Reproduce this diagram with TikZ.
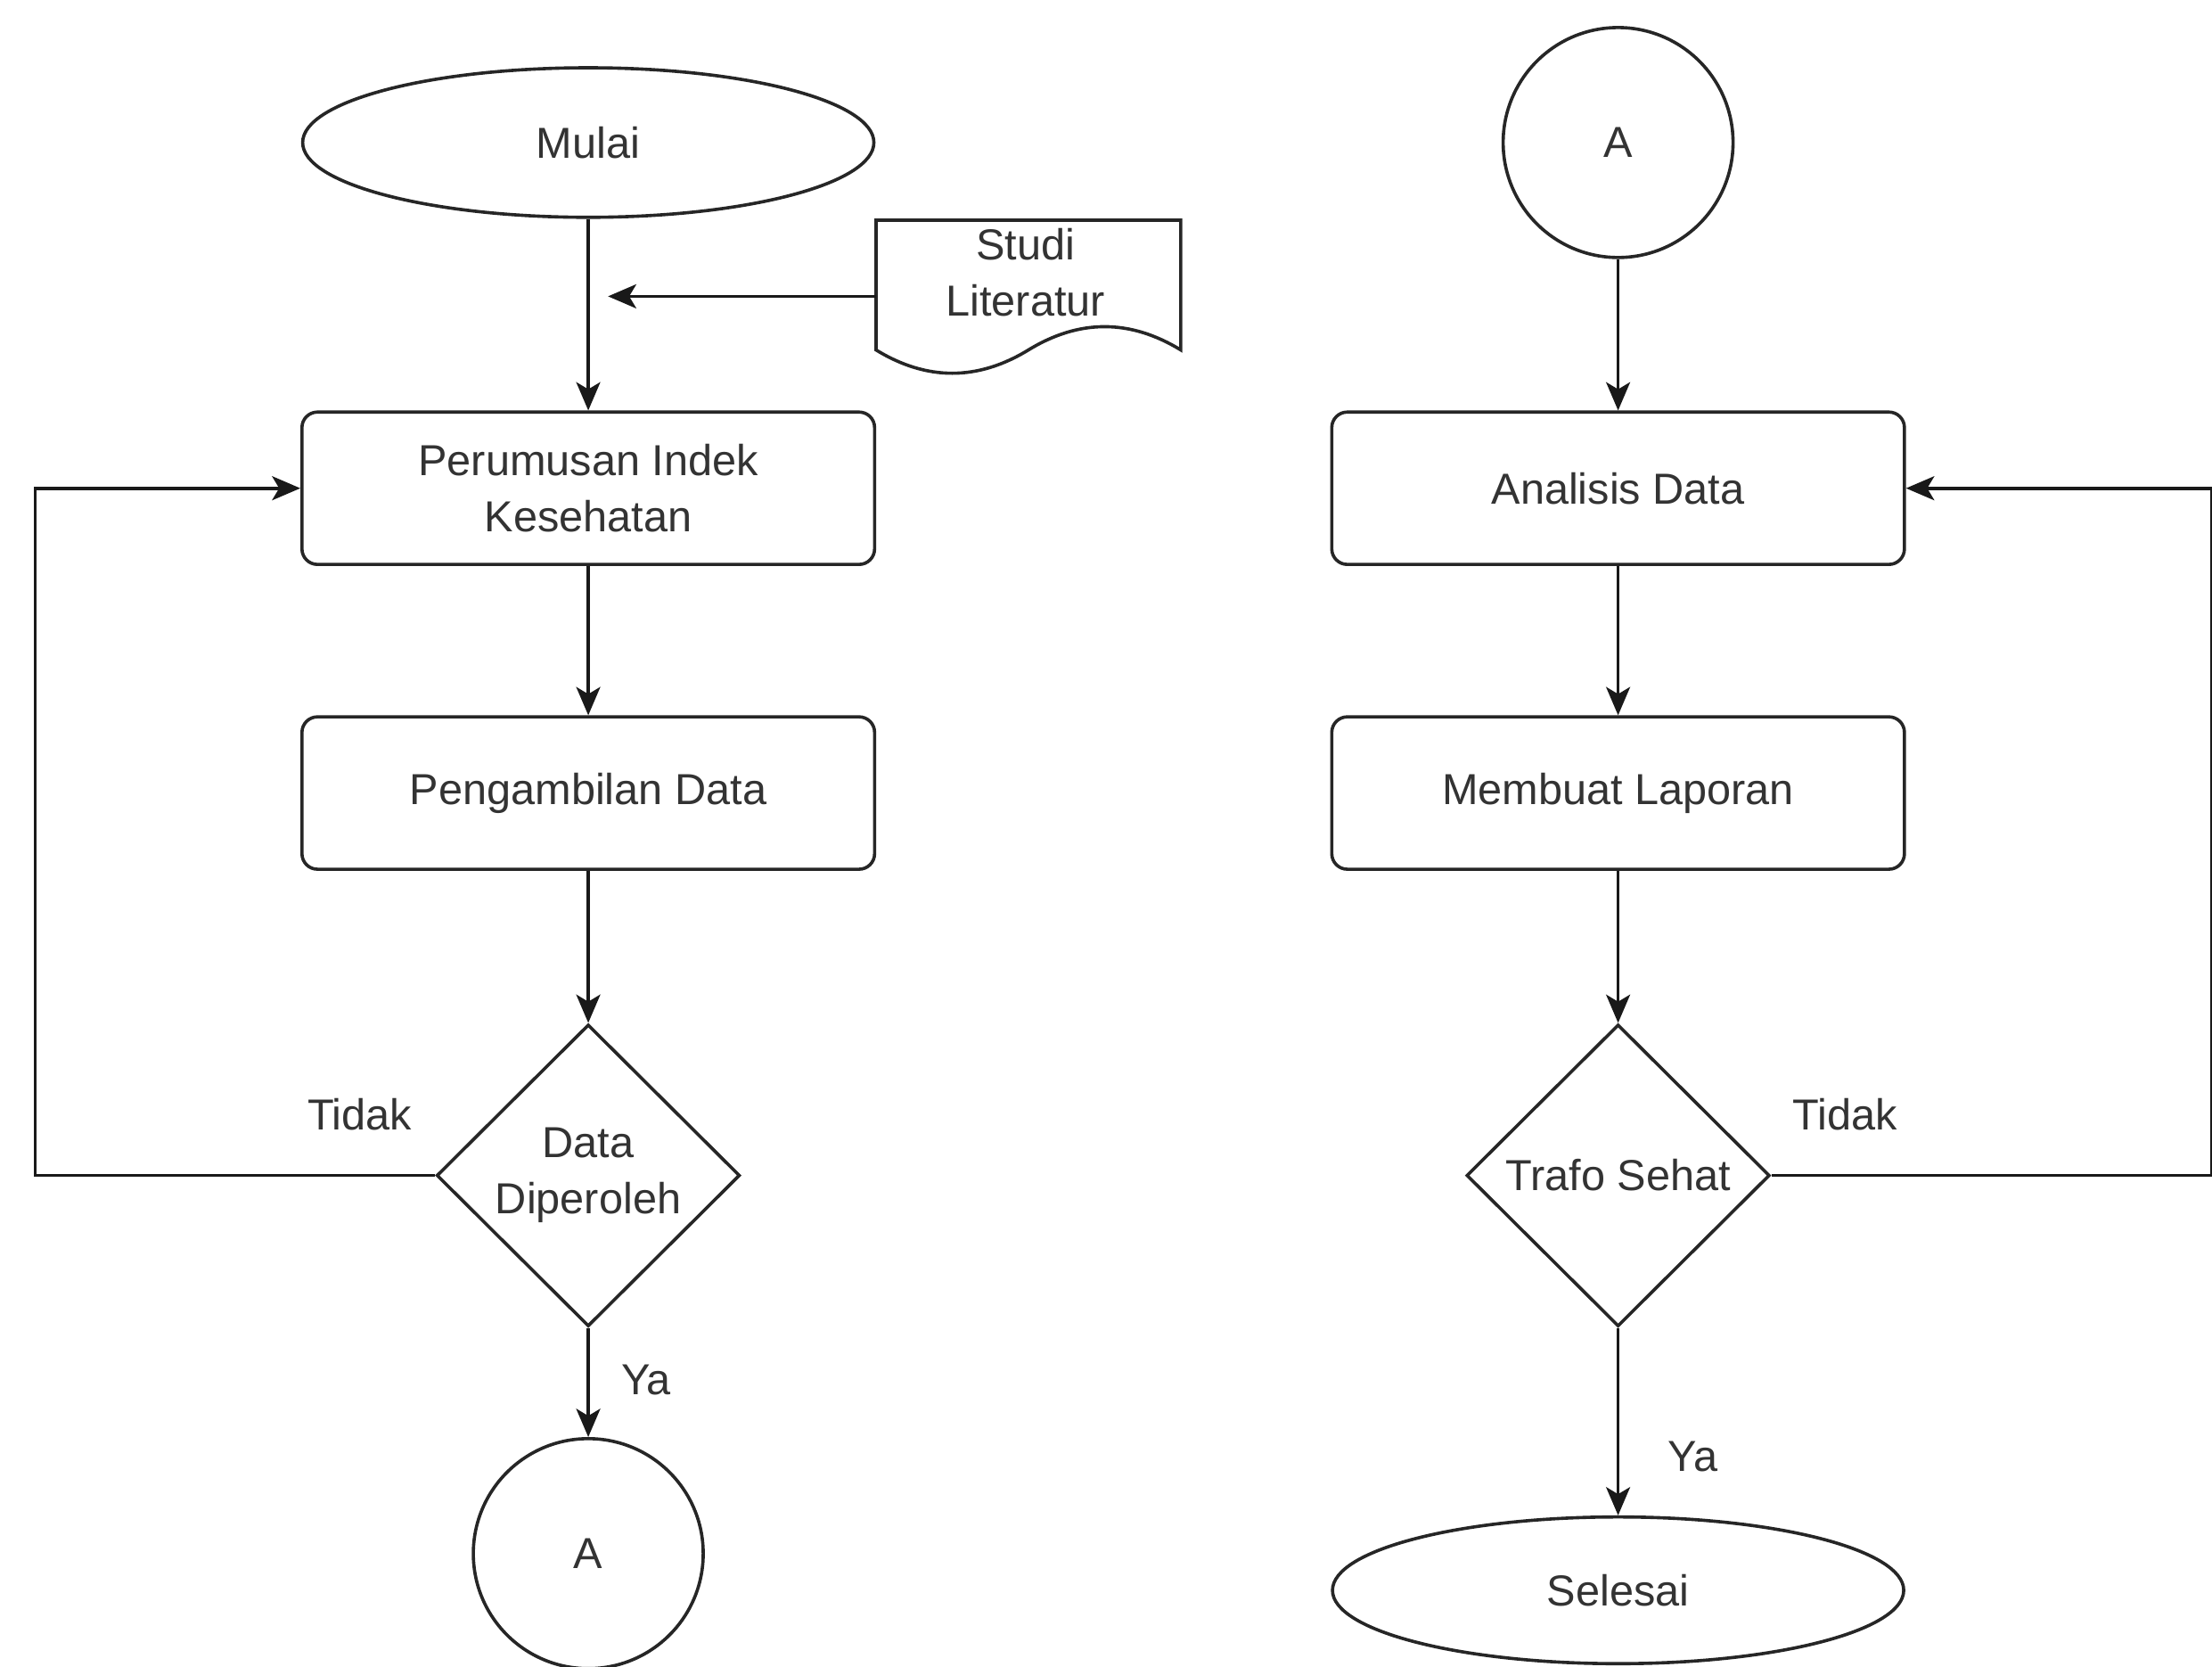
\documentclass[tikz,border=0pt]{standalone}
\usepackage{fontspec}
\setmainfont{Liberation Sans}
\usetikzlibrary{shapes.geometric,arrows.meta}
\begin{document}
\begin{tikzpicture}[x=0.02cm,y=-0.02cm,
  every node/.style={font=\fontsize{17.5}{22.8}\selectfont, text=black!80},
  base/.style={draw=black!85, line width=1.3pt, align=center, inner sep=0pt},
  term/.style={base, ellipse, minimum width=8.1cm, minimum height=2.12cm},
  proc/.style={base, rectangle, rounded corners=0.22cm, minimum width=8.12cm, minimum height=2.16cm},
  dec/.style={base, diamond, minimum width=4.3cm, minimum height=4.28cm, aspect=1},
  conn/.style={base, circle, minimum size=3.26cm},
  lbl/.style={inner sep=0pt},
  arr/.style={draw=black!90, line width=1.3pt, -{Stealth[length=0.4cm,width=0.34cm,inset=0.1cm]}},
  ln/.style={draw=black!90, line width=1.3pt}
]
\useasboundingbox (0,0) rectangle (1568,1181);
\fill[white] (0,0) rectangle (1568,1181);

% left column
\node[term] (mulai) at (417,101) {Mulai};
\node[proc] (perum) at (417,346) {Perumusan Indek\\Kesehatan};
\node[proc] (peng) at (417,562) {Pengambilan Data};
\node[dec] (d1) at (417,833) {Data\\Diperoleh};
\node[conn] (a1) at (417,1101) {A};

% document shape
\draw[draw=black!85, line width=1.3pt] (621,248) -- (621,156) -- (837,156) -- (837,248)
  .. controls (801,226) and (765,226) .. (729,248)
  .. controls (693,270) and (657,270) .. (621,248) -- cycle;
\node[lbl, align=center] (studi) at (727,193) {Studi\\Literatur};
\coordinate (studiw) at (621,210);
\coordinate (j1) at (431,210);
\draw[arr] (studiw) -- (j1);

\draw[arr] (mulai) -- (perum);
\draw[arr] (perum) -- (peng);
\draw[arr] (peng) -- (d1);
\draw[arr] (d1) -- (a1);
\coordinate (lb) at (25,833);
\coordinate (lt) at (25,346);
\draw[arr] (d1.west) -- (lb) -- (lt) -- (perum.west);
\node[lbl] (t1) at (255,790) {Tidak};
\node[lbl] (y1) at (458,978) {Ya};

% right column
\node[conn] (a2) at (1147,101) {A};
\node[proc] (anal) at (1147,346) {Analisis Data};
\node[proc] (memb) at (1147,562) {Membuat Laporan};
\node[dec] (d2) at (1147,833) {Trafo Sehat};
\node[term, minimum height=2.08cm] (sel) at (1147,1127) {Selesai};

\draw[arr] (a2) -- (anal);
\draw[arr] (anal) -- (memb);
\draw[arr] (memb) -- (d2);
\draw[arr] (d2) -- (sel);
\coordinate (rb) at (1568,833);
\coordinate (rt) at (1568,346);
\draw[arr] (d2.east) -- (rb) -- (rt) -- (anal.east);
\node[lbl] (t2) at (1308,790) {Tidak};
\node[lbl] (y2) at (1200,1032) {Ya};
\end{tikzpicture}
\end{document}
